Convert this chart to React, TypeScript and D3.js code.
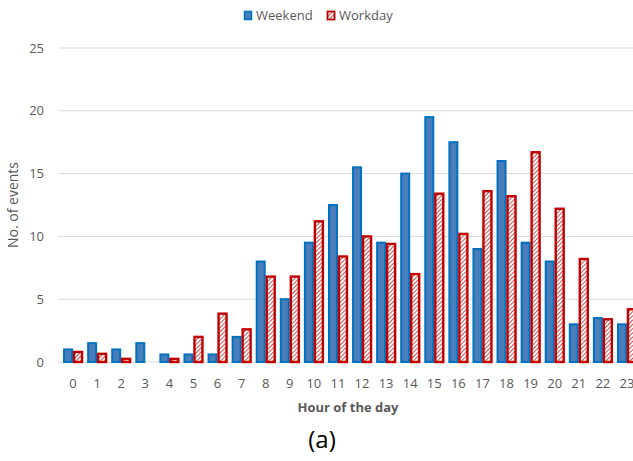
import * as d3 from 'd3'

const hours = d3.range(0, 24).map(String)
const weekend = [1.0, 1.5, 1.0, 1.5, 0.6, 0.6, 0.6, 2.0, 8.0, 5.0, 9.5, 12.5, 15.5, 9.5, 15.0, 19.5, 17.5, 9.0, 16.0, 9.5, 8.0, 3.0, 3.5, 3.0]
const workday = [0.8, 0.65, 0.25, 0, 0.25, 2.0, 3.85, 2.6, 6.8, 6.8, 11.2, 8.4, 10.0, 9.4, 7.0, 13.4, 10.2, 13.6, 13.2, 16.7, 12.2, 8.2, 3.4, 4.2]
const yTicks = [0, 5, 10, 15, 20, 25]

const W = 633
const H = 461
const font = "'Open Sans', 'Noto Sans', sans-serif"
const grey = '#595959'

export default function App() {
  const x = d3.scaleBand().domain(hours).range([61, 639]).paddingInner(0.17).paddingOuter(0.085)
  const sub = d3.scaleBand().domain(['weekend', 'workday']).range([0, x.bandwidth()]).paddingInner(0.0)
  const y = d3.scaleLinear().domain([0, 25]).range([362, 48])

  return (
    <svg width={W} height={H} style={{ position: 'absolute', left: 0, top: 0, background: '#fff' }}>
      <defs>
        <pattern id="hatch" patternUnits="userSpaceOnUse" width="3" height="3" patternTransform="rotate(45)">
          <rect width="3" height="3" fill="#fff" />
          <line x1="0" y1="0" x2="0" y2="3" stroke="#c00000" strokeWidth="1.4" />
        </pattern>
      </defs>

      {/* legend */}
      <rect x={244.5} y={11.5} width={7} height={8} fill="#4a7ebb" stroke="#0070c0" strokeWidth={1.5} />
      <text x={256} y={20} fontFamily={font} fontSize={13} fill={grey}>Weekend</text>
      <rect x={327.5} y={11.5} width={7} height={8} fill="url(#hatch)" stroke="#c00000" strokeWidth={1.8} />
      <text x={339} y={20} fontFamily={font} fontSize={13} fill={grey}>Workday</text>

      {/* grid */}
      {yTicks.map(t => (
        <g key={t}>
          <line x1={58} x2={W} y1={y(t)} y2={y(t)} stroke="#d9d9d9" strokeWidth={1} />
          <text x={44} y={y(t) + 4.5} textAnchor="end" fontFamily={font} fontSize={13} fill={grey}>{t}</text>
        </g>
      ))}

      {/* bars */}
      {hours.map((h, i) => (
        <g key={h} transform={`translate(${x(h)},0)`}>
          <rect x={sub('weekend')! + 1} y={y(weekend[i])} width={sub.bandwidth() - 2} height={y(0) - y(weekend[i])}
            fill="#4a7ebb" stroke="#0070c0" strokeWidth={2} />
          {workday[i] > 0 && (
            <rect x={sub('workday')! + 1} y={y(workday[i])} width={sub.bandwidth() - 2} height={y(0) - y(workday[i])}
              fill="url(#hatch)" stroke="#c00000" strokeWidth={2.4} />
          )}
          <text x={x.bandwidth() / 2} y={388} textAnchor="middle" fontFamily={font} fontSize={13} fill={grey}>{h}</text>
        </g>
      ))}

      {/* axis titles */}
      <text transform="translate(18,205) rotate(-90)" textAnchor="middle" fontFamily={font} fontSize={14} fill={grey}>No. of events</text>
      <text x={348} y={412} textAnchor="middle" fontFamily={font} fontSize={13} fontWeight="bold" fill={grey}>Hour of the day</text>
      <text x={322} y={448} textAnchor="middle" fontFamily={font} fontSize={24} fill="#000">(a)</text>
    </svg>
  )
}
